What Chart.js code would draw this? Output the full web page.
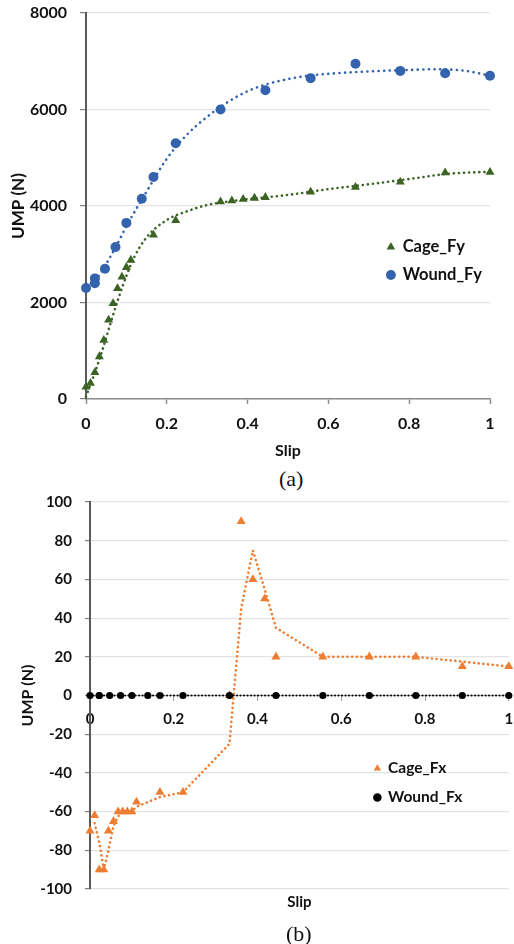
<!DOCTYPE html>
<html>
<head>
<meta charset="utf-8">
<script src="https://cdn.jsdelivr.net/npm/chart.js@4.4.1/dist/chart.umd.min.js"></script>
<style>
  html, body { margin: 0; padding: 0; background: #fff; }
  #wrap { position: relative; width: 514px; height: 944px; overflow: hidden; }
  canvas { position: absolute; left: 0; }
  .cap { position: absolute; font-family: "Liberation Serif", "Times New Roman", serif; font-size: 22px; line-height: 24px; color: #111; }
</style>
</head>
<body>
<div id="wrap">
  <canvas id="chartA" width="514" height="466" style="top:0"></canvas>
  <div class="cap" style="top:467px;left:279px">(a)</div>
  <canvas id="chartB" width="514" height="452" style="top:492px"></canvas>
  <div class="cap" style="top:922px;left:286px">(b)</div>
</div>
<script>
// slip values of each measured point
var cageSlip  = [0, 0.011, 0.022, 0.033, 0.044, 0.056, 0.067, 0.078, 0.089, 0.1, 0.111, 0.167, 0.222, 0.333, 0.361, 0.389, 0.417, 0.444, 0.556, 0.667, 0.778, 0.889, 1];
var woundSlip = [0, 0.022, 0.022, 0.047, 0.073, 0.1, 0.138, 0.167, 0.222, 0.333, 0.444, 0.556, 0.667, 0.778, 0.889, 1];

// (a) UMP along y
var cageFy  = [250, 330, 550, 880, 1220, 1640, 1980, 2290, 2530, 2730, 2880, 3400, 3700, 4090, 4110, 4140, 4165, 4180, 4290, 4390, 4500, 4690, 4700];
var woundFy = [2300, 2500, 2400, 2700, 3150, 3650, 4150, 4600, 5300, 6000, 6400, 6650, 6950, 6800, 6750, 6700];

// dotted trend lines of (a)
var cageTrendSlip  = [0, 0.02, 0.04, 0.06, 0.08, 0.1, 0.12, 0.15, 0.2, 0.25, 0.3, 0.35, 0.4, 0.5, 0.6, 0.7, 0.8, 0.9, 1];
var cageFyTrend    = [50, 500, 1000, 1550, 2080, 2550, 2950, 3350, 3710, 3890, 4020, 4090, 4140, 4230, 4350, 4450, 4560, 4670, 4710];
var woundTrendSlip = [0, 0.025, 0.05, 0.075, 0.1, 0.15, 0.2, 0.25, 0.3, 0.35, 0.4, 0.45, 0.5, 0.55, 0.6, 0.7, 0.8, 0.87, 0.94, 1];
var woundFyTrend   = [2330, 2480, 2800, 3170, 3580, 4300, 4980, 5480, 5850, 6150, 6380, 6530, 6630, 6700, 6740, 6790, 6820, 6835, 6800, 6700];

// (b) UMP along x
var cageFx  = [-70, -62, -90, -90, -70, -65, -60, -60, -60, -60, -55, -50, -50, 0, 90, 60, 50, 20, 20, 20, 20, 15, 15];
var woundFx = [0, 0, 0, 0, 0, 0, 0, 0, 0, 0, 0, 0, 0, 0, 0, 0];
// orange dotted line of (b), starts at the second point
var cageFxTrendSlip = cageSlip.slice(1);
var cageFxTrend = [-66, -76, -90, -80, -67.5, -62.5, -60, -60, -60, -57.5, -52.5, -50, -25, 45, 75, 55, 35, 20, 20, 20, 17.5, 15];

// axis ticks
var slipTicks = [0, 0.2, 0.4, 0.6, 0.8, 1];
var fyTicks = [0, 2000, 4000, 6000, 8000];
var fxTicks = [-100, -80, -60, -40, -20, 0, 20, 40, 60, 80, 100];

var FONT = 'Lato, "Open Sans", sans-serif';
var TXT = '#111';

function pts(xs, ys) {
  return xs.map(function (x, i) { return {x: x, y: ys[i]}; });
}
function fixTicks(list) {
  return function (s) { s.ticks = list.map(function (v) { return {value: v}; }); };
}
function plain(v) { return String(Math.round(v * 100) / 100); }

// moves the chartArea legend to a spot given in data units
var legendSpot = {
  id: 'legendSpot',
  afterLayout: function (chart, args, opts) {
    var lg = chart.legend;
    if (!lg || opts.x === undefined) return;
    var pad = lg.options.labels.padding;
    var w = lg.right - lg.left, h = lg.bottom - lg.top;
    lg.left = chart.scales.x.getPixelForValue(opts.x) - pad;
    lg.top = chart.scales.y.getPixelForValue(opts.y) - pad;
    lg.right = lg.left + w;
    lg.bottom = lg.top + h;
  }
};
Chart.register(legendSpot);

function dotted(color, width, gap) {
  return {
    showLine: true, pointRadius: 0, borderColor: color, borderWidth: width,
    borderDash: [0.1, gap], borderCapStyle: 'round', cubicInterpolationMode: 'monotone',
    clip: false
  };
}

function legendOpts(size, box, pad) {
  return {
    position: 'chartArea', align: 'start',
    labels: {
      usePointStyle: true, boxWidth: box, boxHeight: box, padding: pad, color: TXT,
      font: {family: FONT, size: size, weight: 'bold'},
      filter: function (item) { return item.datasetIndex < 2; },
      sort: function (a, b) { return a.datasetIndex - b.datasetIndex; }
    }
  };
}

// ---------- chart (a) ----------
var dsA = [
  {label: 'Cage_Fy', data: pts(cageSlip, cageFy), pointStyle: 'triangle', pointRadius: 5.2,
   backgroundColor: '#3b6324', borderColor: '#3b6324', borderWidth: 0, order: 0, clip: false},
  {label: 'Wound_Fy', data: pts(woundSlip, woundFy), pointStyle: 'circle', pointRadius: 5,
   backgroundColor: '#3462ad', borderColor: '#3462ad', borderWidth: 0, order: 0, clip: false},
  Object.assign({label: 'cage trend', data: pts(cageTrendSlip, cageFyTrend), order: 1}, dotted('#3b6324', 2.6, 5)),
  Object.assign({label: 'wound trend', data: pts(woundTrendSlip, woundFyTrend), order: 1}, dotted('#3462ad', 2.6, 5.5))
];

new Chart(document.getElementById('chartA'), {
  type: 'scatter',
  data: {datasets: dsA},
  options: {
    responsive: false, animation: false, events: [],
    layout: {padding: {top: 13, right: 24, left: 0, bottom: 0}},
    plugins: {
      tooltip: {enabled: false},
      legend: legendOpts(16.5, 7, 11.5),
      legendSpot: {x: 0.746, y: 3320}
    },
    scales: {
      x: {
        type: 'linear', min: 0, max: 1,
        afterBuildTicks: fixTicks(slipTicks),
        ticks: {color: TXT, padding: 10, font: {family: FONT, size: 16, weight: 'bold'}, callback: plain},
        grid: {drawOnChartArea: false, tickLength: 5, tickColor: '#8c8c8c', tickWidth: 1.5},
        border: {color: '#8c8c8c', width: 1.5},
        title: {display: true, text: 'Slip', color: TXT, font: {family: FONT, size: 16, weight: 'bold'}, padding: {top: 0, bottom: 6}},
        afterFit: function (s) { s.height = 67; s.paddingLeft = 0; s.paddingRight = 0; }
      },
      y: {
        min: 0, max: 8000,
        afterBuildTicks: fixTicks(fyTicks),
        ticks: {color: TXT, padding: 13, font: {family: FONT, size: 16, weight: 'bold'}, callback: plain},
        grid: {color: '#e3e3e3', lineWidth: 1.2, tickLength: 6, tickColor: '#7f7f7f'},
        border: {color: '#595959', width: 2},
        title: {display: true, text: 'UMP (N)', color: TXT, font: {family: FONT, size: 17, weight: 'bold'}, padding: {top: 8, bottom: 0}},
        afterFit: function (s) { s.width = 86; s.paddingTop = 0; s.paddingBottom = 0; }
      }
    }
  }
});

// ---------- chart (b) ----------
var dsB = [
  {label: 'Cage_Fx', data: pts(cageSlip, cageFx), pointStyle: 'triangle', pointRadius: 5.2,
   backgroundColor: '#ed7d31', borderColor: '#ed7d31', borderWidth: 0, order: 1, clip: false},
  Object.assign({label: 'Wound_Fx', data: pts(woundSlip, woundFx), order: 0}, dotted('#000', 2, 3.4),
   {pointStyle: 'circle', pointRadius: 3.6, pointBorderWidth: 0, pointBackgroundColor: '#000', backgroundColor: '#000',
    cubicInterpolationMode: 'default', tension: 0}),
  Object.assign({label: 'cage trend', data: pts(cageFxTrendSlip, cageFxTrend), order: 2}, dotted('#ed7d31', 2.6, 4.6),
   {cubicInterpolationMode: 'default', tension: 0})
];

new Chart(document.getElementById('chartB'), {
  type: 'scatter',
  data: {datasets: dsB},
  options: {
    responsive: false, animation: false, events: [],
    layout: {padding: {top: 10, right: 1, left: 0, bottom: 0}},
    plugins: {
      tooltip: {enabled: false},
      legend: legendOpts(15.5, 6, 13.5),
      legendSpot: {x: 0.679, y: -33.7}
    },
    scales: {
      x: {
        type: 'linear', min: 0, max: 1, position: {y: 0},
        afterBuildTicks: fixTicks(slipTicks),
        ticks: {color: TXT, padding: 10, font: {family: FONT, size: 15, weight: 'bold'}, callback: plain},
        grid: {drawOnChartArea: false, tickLength: 5, tickColor: '#a0a0a0'},
        border: {color: '#a6a6a6', width: 1},
        afterFit: function (s) { s.paddingLeft = 0; s.paddingRight = 0; }
      },
      x2: {
        type: 'linear', min: 0, max: 1, position: 'bottom',
        ticks: {display: false}, grid: {display: false}, border: {display: false},
        title: {display: true, text: 'Slip', color: TXT, font: {family: FONT, size: 15, weight: 'bold'}, padding: {top: 0, bottom: 33}},
        afterFit: function (s) { s.height = 55; }
      },
      y: {
        min: -100, max: 100,
        afterBuildTicks: fixTicks(fxTicks),
        ticks: {color: TXT, padding: 13, font: {family: FONT, size: 15, weight: 'bold'}, callback: plain},
        grid: {color: '#e3e3e3', lineWidth: 1.2, tickLength: 5, tickColor: '#7f7f7f'},
        border: {color: '#595959', width: 2},
        title: {display: true, text: 'UMP (N)', color: TXT, font: {family: FONT, size: 16, weight: 'bold'}, padding: {top: 18, bottom: 0}},
        afterFit: function (s) { s.width = 90; s.paddingTop = 0; s.paddingBottom = 0; }
      }
    }
  }
});
</script>
</body>
</html>
